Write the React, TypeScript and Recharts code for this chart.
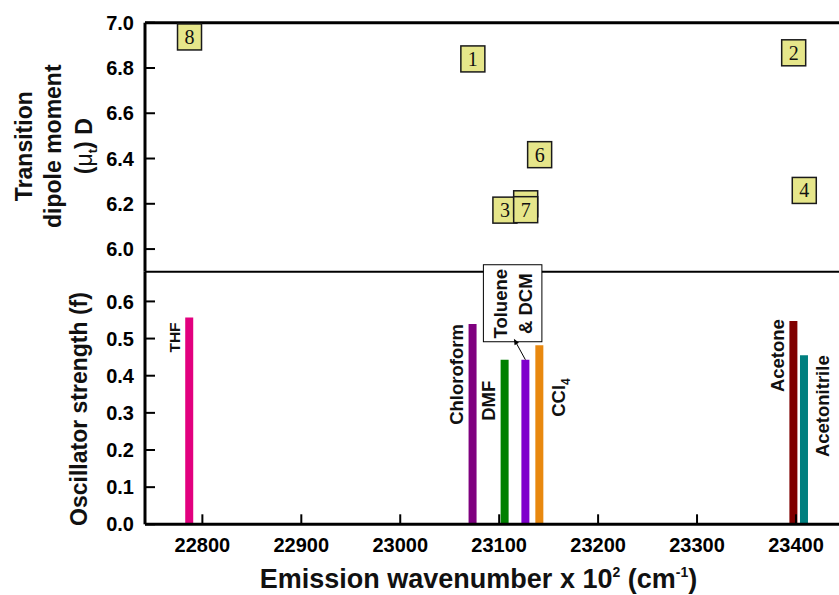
import { Bar, BarChart, Cell, LabelList, ReferenceLine, Scatter, ScatterChart, XAxis, YAxis } from "recharts";

// bottom panel: oscillator strength per solvent
const SOLVENTS = ["THF", "Chloroform", "DMF", "Toluene & DCM", "CCl4", "Acetone", "Acetonitrile"];
const EMISSION = [22787, 23073.4, 23105.8, 23126.8, 23140.9, 23397.7, 23408.4];
const OSC_STRENGTH = [0.557, 0.539, 0.443, 0.443, 0.482, 0.547, 0.455];
const BAR_COLORS = ["#e2007f", "#7f007f", "#008000", "#7f00cc", "#e8880f", "#800000", "#007f7f"];

// top panel: numbered boxes (transition dipole moment); the box hidden behind 7 shows no number
const BOX_LABELS = ["8", "1", "3", "", "7", "6", "2", "4"];
const BOX_EMISSION = [22787, 23073.4, 23105.8, 23126.8, 23126.8, 23140.9, 23397.7, 23408.4];
const BOX_DIPOLE = [6.937, 6.84, 6.172, 6.2, 6.174, 6.417, 6.867, 6.259];

const X_TICKS = [22800, 22900, 23000, 23100, 23200, 23300, 23400];
const DIPOLE_TICKS = [6.0, 6.2, 6.4, 6.6, 6.8, 7.0];
const OSC_TICKS = [0.0, 0.1, 0.2, 0.3, 0.4, 0.5, 0.6];

const X_DOMAIN: [number, number] = [22742, 23443.5];
const FONT = "'Liberation Sans', Arial, sans-serif";
const W = 839;
const H = 595;

const LABEL_LAYOUT: Record<string, { side: "left" | "right"; size: number; drop: number }> = {
  THF: { side: "left", size: 15.5, drop: 5 },
  Chloroform: { side: "left", size: 18.5, drop: 0 },
  DMF: { side: "left", size: 18.5, drop: 21 },
  CCl4: { side: "right", size: 18.5, drop: 33 },
  Acetone: { side: "left", size: 18.5, drop: -2 },
  Acetonitrile: { side: "right", size: 18.5, drop: 0 },
};

const barData = SOLVENTS.map((name, i) => ({ name, x: EMISSION[i], f: OSC_STRENGTH[i] }));
const boxData = BOX_LABELS.map((label, i) => ({ label, x: BOX_EMISSION[i], y: BOX_DIPOLE[i] }));

const tickStyle = { fill: "#000", fontSize: 20, fontWeight: "bold", fontFamily: FONT };

function NumberBox(props: any) {
  const { cx, cy, payload } = props;
  return (
    <g>
      <rect x={cx - 12} y={cy - 13} width={24} height={26} fill="#e6e68a" stroke="#1a1a1a" strokeWidth={1.5} />
      {payload.label ? (
        <text x={cx} y={cy + 7} textAnchor="middle" fontSize={20} fontFamily="'Liberation Serif', 'Times New Roman', serif" fill="#111">
          {payload.label}
        </text>
      ) : null}
    </g>
  );
}

function TolueneBox({ cx, top }: { cx: number; top: number }) {
  const tip = { x: cx - 11.5, y: top - 21 };
  const dx = tip.x - cx;
  const dy = tip.y - top;
  const len = Math.hypot(dx, dy);
  const ux = dx / len;
  const uy = dy / len;
  const bx = tip.x - 6 * ux;
  const by = tip.y - 6 * uy;
  const head = `${tip.x},${tip.y} ${bx - 2.5 * uy},${by + 2.5 * ux} ${bx + 2.5 * uy},${by - 2.5 * ux}`;
  const ty = top - 56;
  const t1 = cx - 18.8;
  const t2 = cx + 6.3;
  return (
    <g>
      <rect x={cx - 42} y={top - 95} width={58.5} height={77} fill="#fff" stroke="#000" strokeWidth={1} />
      <text transform={`rotate(-90 ${t1} ${ty})`} x={t1} y={ty} textAnchor="middle" fontSize={18.5} fontWeight="bold" fontFamily={FONT} fill="#111">
        Toluene
      </text>
      <text transform={`rotate(-90 ${t2} ${ty})`} x={t2} y={ty} textAnchor="middle" fontSize={18.5} fontWeight="bold" fontFamily={FONT} fill="#111">
        &amp; DCM
      </text>
      <line x1={cx} y1={top} x2={bx} y2={by} stroke="#000" strokeWidth={1} />
      <polygon points={head} fill="#000" />
    </g>
  );
}

function SolventLabel(props: any) {
  const { x, y, width, value } = props;
  const name = String(value);
  if (name === "Toluene & DCM") {
    return <TolueneBox cx={Number(x) + Number(width) / 2} top={Number(y)} />;
  }
  const layout = LABEL_LAYOUT[name];
  if (!layout) return null;
  const tx = layout.side === "left" ? Number(x) - 5.5 : Number(x) + Number(width) + 21.5;
  const ty = Number(y) + layout.drop;
  return (
    <text
      transform={`rotate(-90 ${tx} ${ty})`}
      x={tx}
      y={ty}
      textAnchor="end"
      fontSize={layout.size}
      fontWeight="bold"
      fontFamily={FONT}
      fill="#111"
    >
      {name === "CCl4" ? (
        <>
          CCl<tspan dy={5} fontSize={12}>4</tspan>
        </>
      ) : (
        name
      )}
    </text>
  );
}

function DipoleTitle(props: any) {
  const { viewBox } = props;
  const cy = viewBox.y + viewBox.height / 2 - 1;
  const lines = [
    { x: 32, node: "Transition" },
    { x: 61.5, node: "dipole moment" },
    {
      x: 92,
      node: (
        <>
          (<tspan fontWeight="normal">μ</tspan>
          <tspan dy={5} fontSize={13}>t</tspan>
          <tspan dy={-5}>) D</tspan>
        </>
      ),
    },
  ];
  return (
    <g>
      {lines.map((l, i) => (
        <text
          key={i}
          transform={`rotate(-90 ${l.x} ${cy})`}
          x={l.x}
          y={cy}
          textAnchor="middle"
          fontSize={23}
          fontWeight="bold"
          fontFamily={FONT}
          fill="#111"
        >
          {l.node}
        </text>
      ))}
    </g>
  );
}

function OscTitle(props: any) {
  const { viewBox } = props;
  const cy = viewBox.y + viewBox.height / 2 + 11;
  const x = 87;
  return (
    <text transform={`rotate(-90 ${x} ${cy})`} x={x} y={cy} textAnchor="middle" fontSize={23} fontWeight="bold" fontFamily={FONT} fill="#111">
      Oscillator strength (f)
    </text>
  );
}

function XTitle(props: any) {
  const { viewBox } = props;
  const x = viewBox.x + 333.5;
  const y = viewBox.y + 63.7;
  return (
    <text x={x} y={y} textAnchor="middle" fontSize={27} fontWeight="bold" fontFamily={FONT} fill="#111">
      Emission wavenumber x 10
      <tspan dy={-11} fontSize={14}>2</tspan>
      <tspan dy={11}> (cm</tspan>
      <tspan dy={-11} fontSize={14}>-1</tspan>
      <tspan dy={11}>)</tspan>
    </text>
  );
}

export default function App() {
  return (
    <div style={{ position: "absolute", left: 0, top: 0, width: W, height: H, background: "#fff", fontFamily: FONT }}>
      <div style={{ position: "absolute", left: 0, top: 0 }}>
        <ScatterChart width={W} height={H} margin={{ top: 22.7, right: 0, bottom: 323.3, left: 85 }}>
          <XAxis type="number" dataKey="x" domain={X_DOMAIN} allowDataOverflow hide />
          <YAxis
            type="number"
            dataKey="y"
            width={60}
            domain={[5.9, 7.0]}
            ticks={DIPOLE_TICKS}
            allowDataOverflow
            tickFormatter={(v: number) => v.toFixed(1)}
            tick={tickStyle}
            tickSize={-10}
            tickMargin={21}
            tickLine={{ stroke: "#000", strokeWidth: 2 }}
            axisLine={{ stroke: "#000", strokeWidth: 3 }}
            label={<DipoleTitle />}
          />
          <ReferenceLine y={7.0} stroke="#000" strokeWidth={3} />
          <ReferenceLine y={5.9} stroke="#000" strokeWidth={2} />
          <Scatter data={boxData} shape={<NumberBox />} isAnimationActive={false} />
        </ScatterChart>
      </div>
      <div style={{ position: "absolute", left: 0, top: 0 }}>
        <BarChart width={W} height={H} data={barData} margin={{ top: 271.7, right: 0, bottom: 40.7, left: 85 }}>
          <XAxis
            type="number"
            dataKey="x"
            domain={X_DOMAIN}
            ticks={X_TICKS}
            allowDataOverflow
            height={30}
            tick={tickStyle}
            tickSize={-10}
            tickMargin={23.4}
            tickLine={{ stroke: "#000", strokeWidth: 2 }}
            axisLine={{ stroke: "#000", strokeWidth: 3 }}
            label={<XTitle />}
          />
          <YAxis
            type="number"
            width={60}
            domain={[0, 0.68]}
            ticks={OSC_TICKS}
            allowDataOverflow
            tickFormatter={(v: number) => v.toFixed(1)}
            tick={tickStyle}
            tickSize={-10}
            tickMargin={21}
            tickLine={{ stroke: "#000", strokeWidth: 2 }}
            axisLine={{ stroke: "#000", strokeWidth: 3 }}
            label={<OscTitle />}
          />
          <Bar dataKey="f" barSize={8} isAnimationActive={false}>
            {barData.map((d, i) => (
              <Cell key={d.name} fill={BAR_COLORS[i]} />
            ))}
            <LabelList dataKey="name" content={<SolventLabel />} />
          </Bar>
        </BarChart>
      </div>
    </div>
  );
}
